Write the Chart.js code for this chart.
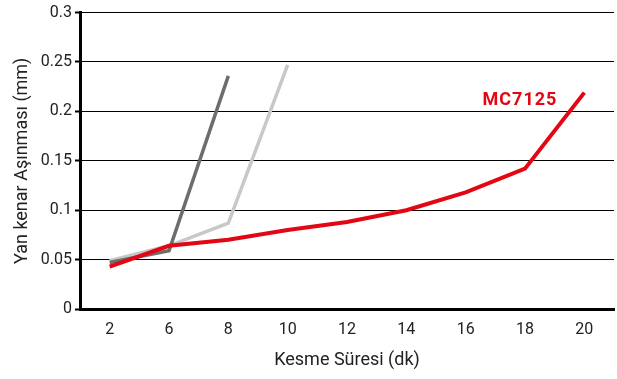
<!DOCTYPE html>
<html>
<head>
<meta charset="utf-8">
<script src="https://cdn.jsdelivr.net/npm/chart.js@4"></script>
<style>
html,body{margin:0;padding:0;background:#fff;}
#wrap{width:617px;height:379px;}
</style>
</head>
<body>
<div id="wrap"><canvas id="c" width="617" height="379"></canvas></div>
<script>
const categories = ["2","6","8","10","12","14","16","18","20"];
const darkGray = [0.047, 0.059, 0.236, null, null, null, null, null, null];
const lightGray = [0.049, 0.064, 0.087, 0.247, null, null, null, null, null];
const mc7125 = [0.043, 0.064, 0.070, 0.080, 0.088, 0.100, 0.118, 0.142, 0.219];
const yTickValues = [0, 0.05, 0.1, 0.15, 0.2, 0.25, 0.3];
const seriesLabel = "MC7125";
const yTitle = "Yan kenar Aşınması (mm)";
const xTitle = "Kesme Süresi (dk)";

const FONT = 'Roboto, "DejaVu Sans", sans-serif';

const labelPlugin = {
  id: 'seriesLabel',
  afterDatasetsDraw(chart) {
    const {ctx, scales: {x, y}} = chart;
    ctx.save();
    ctx.font = 'bold 18px ' + FONT;
    ctx.fillStyle = '#e30613';
    ctx.textAlign = 'center';
    ctx.textBaseline = 'middle';
    if ('letterSpacing' in ctx) ctx.letterSpacing = '1px';
    ctx.fillText(seriesLabel, x.getPixelForValue(7) - 5, y.getPixelForValue(0.211));
    ctx.restore();
  }
};

new Chart(document.getElementById('c'), {
  type: 'line',
  data: {
    labels: categories,
    datasets: [
      {label: 'A', data: darkGray, borderColor: '#6d6d6d', borderWidth: 3.5, pointRadius: 0, spanGaps: false, order: 2},
      {label: 'B', data: lightGray, borderColor: '#c8c8c8', borderWidth: 3.5, pointRadius: 0, spanGaps: false, order: 3},
      {label: seriesLabel, data: mc7125, borderColor: '#e30613', borderWidth: 4, pointRadius: 0, order: 1}
    ]
  },
  options: {
    responsive: false,
    animation: false,
    layout: {padding: {top: 12, right: 3, left: 0, bottom: 0}},
    plugins: {legend: {display: false}, tooltip: {enabled: false}},
    scales: {
      x: {
        type: 'category',
        offset: true,
        grid: {display: false},
        border: {display: true, color: '#000', width: 3},
        ticks: {color: '#222', font: {family: FONT, size: 16}, padding: 3, maxRotation: 0},
        title: {display: true, text: xTitle, color: '#222', font: {family: FONT, size: 18}, padding: {top: 0, bottom: 8}},
        afterFit(s) { s.height = 70; }
      },
      y: {
        min: 0, max: 0.3,
        afterBuildTicks(s) { s.ticks = yTickValues.map(v => ({value: v})); },
        grid: {color: '#000', lineWidth: 1, drawTicks: true, tickLength: 5, tickColor: '#000', tickWidth: 2},
        border: {display: true, color: '#000', width: 3},
        ticks: {color: '#222', font: {family: FONT, size: 16}, padding: 3,
          callback: (v) => String(parseFloat(Number(v).toFixed(2)))},
        title: {display: true, text: yTitle, color: '#222', font: {family: FONT, size: 18}, padding: {top: 12, bottom: 0}},
        afterFit(s) { s.width = 80; }
      }
    }
  },
  plugins: [labelPlugin]
});
</script>
</body>
</html>
